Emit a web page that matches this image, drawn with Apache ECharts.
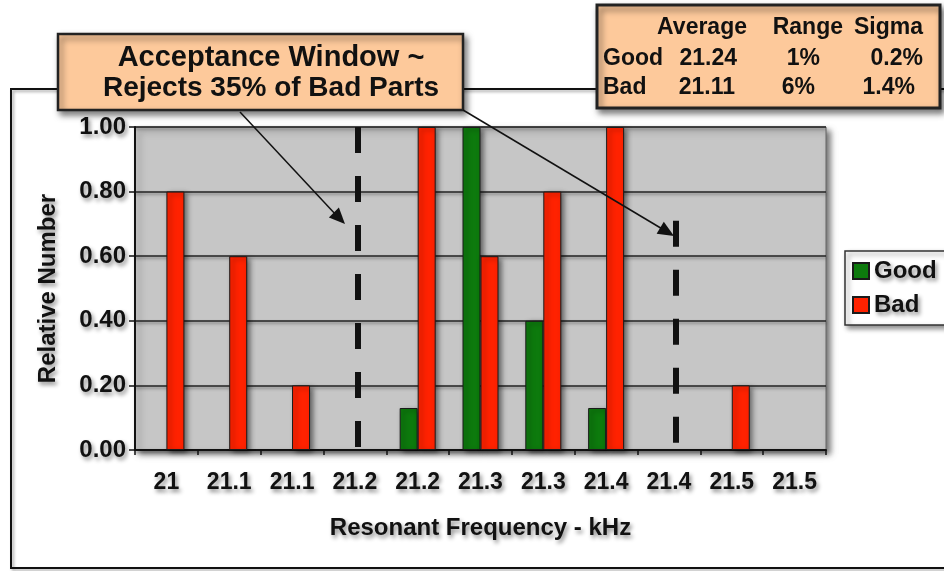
<!DOCTYPE html>
<html>
<head>
<meta charset="utf-8">
<script src="https://cdn.jsdelivr.net/npm/echarts@6/dist/echarts.min.js"></script>
<style>
  html, body { margin: 0; padding: 0; background: #fff; }
  #chart { width: 944px; height: 571px; }
</style>
</head>
<body>
<div id="chart"></div>
<script>
  // data
  var categories = ['21', '21.1', '21.1', '21.2', '21.2', '21.3', '21.3', '21.4', '21.4', '21.5', '21.5'];
  var goodValues = [null, null, null, null, 0.13, 1.0, 0.4, 0.13, null, null, null];
  var badValues = [0.8, 0.6, 0.2, null, 1.0, 0.6, 0.8, 1.0, null, 0.2, null];
  var windowLow = 3.55;   // dashed limit lines, in category units
  var windowHigh = 8.61;
  var windowHighTop = 0.71;
  var statHeader = ['Average', 'Range', 'Sigma'];
  var statRows = [
    ['Good', '21.24', '1%', '0.2%'],
    ['Bad', '21.11', '6%', '1.4%']
  ];
  var noteLines = ['Acceptance Window ~', 'Rejects 35% of Bad Parts'];

  var FONT = '"Liberation Sans", Arial, sans-serif';
  var shadowText = {
    textShadowColor: 'rgba(0,0,0,0.45)',
    textShadowBlur: 4,
    textShadowOffsetX: 2,
    textShadowOffsetY: 3
  };
  var boxFill = '#fdc99b';

  var myChart = echarts.init(document.getElementById('chart'));

  // stats table text
  var statX = [[747, 843, 923], [737, 820, 923], [735, 815, 915]];
  var statY = [28, 59, 88];
  var statTexts = [];
  function statText(t, x, y, align) {
    return { type: 'text', z: 12, x: x, y: y,
      style: { text: t, font: 'bold 23px ' + FONT, fill: '#111', align: align, verticalAlign: 'middle',
        shadowColor: 'rgba(0,0,0,0.3)', shadowBlur: 2, shadowOffsetX: 1, shadowOffsetY: 1 } };
  }
  statHeader.forEach(function (t, i) {
    statTexts.push(statText(t, statX[0][i], statY[0], 'right'));
  });
  statRows.forEach(function (row, r) {
    statTexts.push(statText(row[0], 603, statY[r + 1], 'left'));
    for (var c = 1; c < row.length; c++) {
      statTexts.push(statText(row[c], statX[r + 1][c - 1], statY[r + 1], 'right'));
    }
  });

  var option = {
    backgroundColor: '#fff',
    animation: false,
    textStyle: { fontFamily: FONT },
    color: ['#0d7a0d', '#ff2200'],
    grid: {
      left: 135, top: 127, right: 118, bottom: 121,
      show: true,
      backgroundColor: '#c6c6c6',
      borderColor: '#666',
      borderWidth: 1,
      shadowColor: 'rgba(0,0,0,0.55)',
      shadowBlur: 6,
      shadowOffsetX: 4,
      shadowOffsetY: 4
    },
    legend: {
      data: ['Good', 'Bad'],
      orient: 'vertical',
      left: 845,
      top: 251,
      icon: 'rect',
      itemWidth: 16,
      itemHeight: 16,
      itemGap: 10,
      padding: [8, 20, 8, 7],
      backgroundColor: '#fff',
      borderColor: '#333',
      borderWidth: 1.5,
      shadowColor: 'rgba(0,0,0,0.45)',
      shadowBlur: 5,
      shadowOffsetX: 3,
      shadowOffsetY: 3,
      textStyle: Object.assign({ fontSize: 24, fontWeight: 'bold', color: '#111', fontFamily: FONT }, shadowText)
    },
    xAxis: [
      {
        type: 'category',
        data: categories,
        name: 'Resonant Frequency - kHz',
        nameLocation: 'middle',
        nameGap: 66,
        nameTextStyle: Object.assign({ fontSize: 24, fontWeight: 'bold', color: '#111' }, shadowText),
        axisLine: { lineStyle: { color: '#111', width: 2 } },
        axisTick: { show: true, length: 5, lineStyle: { color: '#111', width: 1.5 } },
        axisLabel: Object.assign({ margin: 21, fontSize: 23, fontWeight: 'bold', color: '#111' }, shadowText),
        splitLine: { show: false }
      },
      {
        type: 'value',
        min: 0,
        max: 11,
        show: false
      }
    ],
    yAxis: {
      type: 'value',
      min: 0,
      max: 1,
      interval: 0.2,
      name: 'Relative Number',
      nameLocation: 'middle',
      nameGap: 75,
      nameTextStyle: Object.assign({ fontSize: 24, fontWeight: 'bold', color: '#111' }, shadowText),
      axisLine: { show: true, lineStyle: { color: '#111', width: 2 } },
      axisTick: { show: true, length: 6, lineStyle: { color: '#111', width: 1.5 } },
      axisLabel: Object.assign({ margin: 9, fontSize: 24, fontWeight: 'bold', color: '#111',
        formatter: function (v) { return v.toFixed(2); } }, shadowText),
      splitLine: {
        show: true,
        lineStyle: { color: '#222', width: 1.5, shadowColor: 'rgba(0,0,0,0.4)', shadowBlur: 3, shadowOffsetY: 2 }
      }
    },
    series: [
      {
        name: 'Good',
        type: 'bar',
        barWidth: 18,
        barGap: '0%',
        data: goodValues,
        itemStyle: {
          borderColor: '#1a1a1a', borderWidth: 1,
          shadowColor: 'rgba(0,0,0,0.5)', shadowBlur: 5, shadowOffsetX: 3, shadowOffsetY: 2
        }
      },
      {
        name: 'Bad',
        type: 'bar',
        barWidth: 18,
        barGap: '0%',
        data: badValues,
        itemStyle: {
          borderColor: '#1a1a1a', borderWidth: 1,
          shadowColor: 'rgba(0,0,0,0.5)', shadowBlur: 5, shadowOffsetX: 3, shadowOffsetY: 2
        }
      },
      {
        // carrier for the dashed acceptance window limits
        type: 'scatter',
        xAxisIndex: 1,
        data: [],
        clip: false,
        markLine: {
          silent: true,
          symbol: ['none', 'none'],
          label: { show: false },
          lineStyle: { color: '#111', width: 6, type: [26, 23] },
          data: [
            [{ coord: [windowLow, 1] }, { coord: [windowLow, 0] }],
            [{ coord: [windowHigh, windowHighTop] }, { coord: [windowHigh, 0] }]
          ]
        }
      }
    ],
    graphic: [
      // outer frame
      { type: 'rect', z: -10, shape: { x: 11, y: 89, width: 1000, height: 479 },
        style: { fill: 'none', stroke: '#111', lineWidth: 2, shadowColor: 'rgba(0,0,0,0.35)', shadowBlur: 3, shadowOffsetX: 2, shadowOffsetY: 2 } },
      // acceptance note box
      { type: 'rect', z: 10, shape: { x: 58, y: 34, width: 405, height: 76 },
        style: { fill: boxFill, stroke: '#222', lineWidth: 2.5, shadowColor: 'rgba(0,0,0,0.5)', shadowBlur: 6, shadowOffsetX: 3, shadowOffsetY: 4 } },
      { type: 'text', z: 11, x: 271, y: 58,
        style: { text: noteLines[0], font: 'bold 29px ' + FONT, fill: '#111', align: 'center', verticalAlign: 'middle',
          shadowColor: 'rgba(0,0,0,0.35)', shadowBlur: 2, shadowOffsetX: 1, shadowOffsetY: 2 } },
      { type: 'text', z: 11, x: 271, y: 88,
        style: { text: noteLines[1], font: 'bold 28px ' + FONT, fill: '#111', align: 'center', verticalAlign: 'middle',
          shadowColor: 'rgba(0,0,0,0.35)', shadowBlur: 2, shadowOffsetX: 1, shadowOffsetY: 2 } },
      // arrows
      { type: 'line', z: 12, shape: { x1: 240, y1: 112, x2: 337, y2: 216 }, style: { stroke: '#111', lineWidth: 1.5 } },
      { type: 'polygon', z: 12, shape: { points: [[345, 224], [328.9, 217.4], [338.9, 207.6]] }, style: { fill: '#111' } },
      { type: 'line', z: 12, shape: { x1: 463, y1: 110, x2: 664, y2: 230 }, style: { stroke: '#111', lineWidth: 1.5 } },
      { type: 'polygon', z: 12, shape: { points: [[674, 236], [656.6, 233.8], [663.8, 221.8]] }, style: { fill: '#111' } },
      // stats box
      { type: 'rect', z: 10, shape: { x: 597, y: 5, width: 343, height: 103 },
        style: { fill: boxFill, stroke: '#222', lineWidth: 3, shadowColor: 'rgba(0,0,0,0.5)', shadowBlur: 6, shadowOffsetX: 3, shadowOffsetY: 4 } }
    ].concat(statTexts)
  };

  myChart.setOption(option);
  window.addEventListener('resize', function () { myChart.resize(); });
</script>
</body>
</html>
